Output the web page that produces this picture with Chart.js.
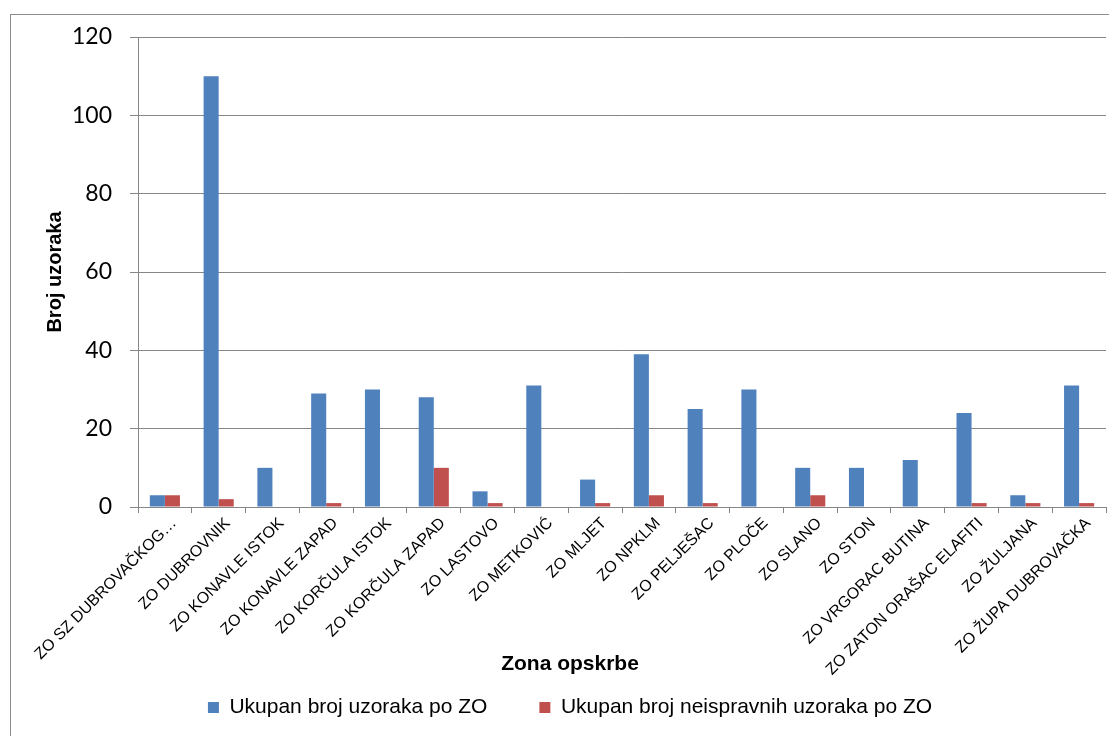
<!DOCTYPE html>
<html>
<head>
<meta charset="utf-8">
<script src="https://cdn.jsdelivr.net/npm/chart.js"></script>
<style>
html, body { margin: 0; padding: 0; background: #fff; overflow: hidden; }
#frame { position: absolute; left: 10px; top: 14px; width: 1200px; height: 800px; border: 1px solid #8c8c8c; }
#wrap { position: absolute; left: 0; top: 0; width: 1140px; height: 736px; }
</style>
</head>
<body>
<div id="frame"></div>
<div id="wrap"><canvas id="myCanvas"></canvas></div>
<script>
var zone = ["ZO SZ DUBROVAČKOG…", "ZO DUBROVNIK", "ZO KONAVLE ISTOK", "ZO KONAVLE ZAPAD", "ZO KORČULA ISTOK",
    "ZO KORČULA ZAPAD", "ZO LASTOVO", "ZO METKOVIĆ", "ZO MLJET", "ZO NPKLM", "ZO PELJEŠAC", "ZO PLOČE",
    "ZO SLANO", "ZO STON", "ZO VRGORAC BUTINA", "ZO ZATON ORAŠAC ELAFITI", "ZO ŽULJANA", "ZO ŽUPA DUBROVAČKA"];
var ukupno = [3, 110, 10, 29, 30, 28, 4, 31, 7, 39, 25, 30, 10, 10, 12, 24, 3, 31];
var neispravno = [3, 2, 0, 1, 0, 10, 1, 0, 1, 3, 1, 0, 3, 0, 0, 1, 1, 1];
var yMax = 120;
var yStep = 20;

// naslov x osi, centriran kao u originalu (na sredini cijelog okvira)
// + duge oznake na x osi ne smiju biti odrezane
var xTitle = {
    id: 'xTitle',
    beforeDraw: function (chart) {
        chart.scales.x._computeLabelArea = function () { return undefined; };
    },
    afterDraw: function (chart) {
        var ctx = chart.ctx;
        ctx.save();
        ctx.font = 'bold 21px "Liberation Sans"';
        ctx.fillStyle = '#000';
        ctx.textAlign = 'center';
        ctx.textBaseline = 'middle';
        ctx.fillText('Zona opskrbe', 570, 664);
        ctx.restore();
    }
};

let myChart = document.getElementById("myCanvas").getContext('2d');

let barChart = new Chart(myChart, {
    type: 'bar',
    data: {
        labels: zone,
        datasets: [{
            label: 'Ukupan broj uzoraka po ZO',
            data: ukupno,
            backgroundColor: '#4F81BD',
            borderWidth: 0,
            categoryPercentage: 0.56,
            barPercentage: 1
        }, {
            label: 'Ukupan broj neispravnih uzoraka po ZO',
            data: neispravno,
            backgroundColor: '#C0504D',
            borderWidth: 0,
            categoryPercentage: 0.56,
            barPercentage: 1
        }]
    },
    options: {
        responsive: true,
        maintainAspectRatio: false,
        animation: false,
        layout: { padding: { top: 37, right: 0, left: 0, bottom: 8 } },
        scales: {
            x: {
                grid: { drawOnChartArea: false, color: '#868686', tickLength: 6, offset: true },
                border: { color: '#868686' },
                ticks: {
                    minRotation: 45, maxRotation: 45, autoSkip: false, padding: 1, labelOffset: 9,
                    color: '#000', font: { family: '"Liberation Sans"', size: 16 }
                },
                afterFit: function (scale) { scale.height = 138; }
            },
            y: {
                min: 0, max: yMax,
                grid: { color: '#868686', tickLength: 8 },
                border: { color: '#868686' },
                ticks: { stepSize: yStep, padding: 18, color: '#000', font: { family: 'Lato', size: 23 } },
                title: {
                    display: true, text: 'Broj uzoraka', color: '#000',
                    font: { family: '"Liberation Sans"', size: 20, weight: 'bold' },
                    padding: { top: 43, bottom: 0 }
                },
                afterFit: function (scale) { scale.width = 138; }
            },
            // prazan prostor desno od grafa
            desno: {
                position: 'right',
                grid: { display: false, drawTicks: false },
                border: { display: false },
                ticks: { display: false },
                afterFit: function (scale) { scale.width = 34; }
            }
        },
        plugins: {
            legend: {
                position: 'bottom',
                labels: {
                    boxWidth: 11, boxHeight: 11, padding: 52, color: '#000',
                    font: { family: '"Liberation Sans"', size: 21 }
                }
            },
            tooltip: { enabled: false }
        }
    },
    plugins: [xTitle]
});
</script>
</body>
</html>
